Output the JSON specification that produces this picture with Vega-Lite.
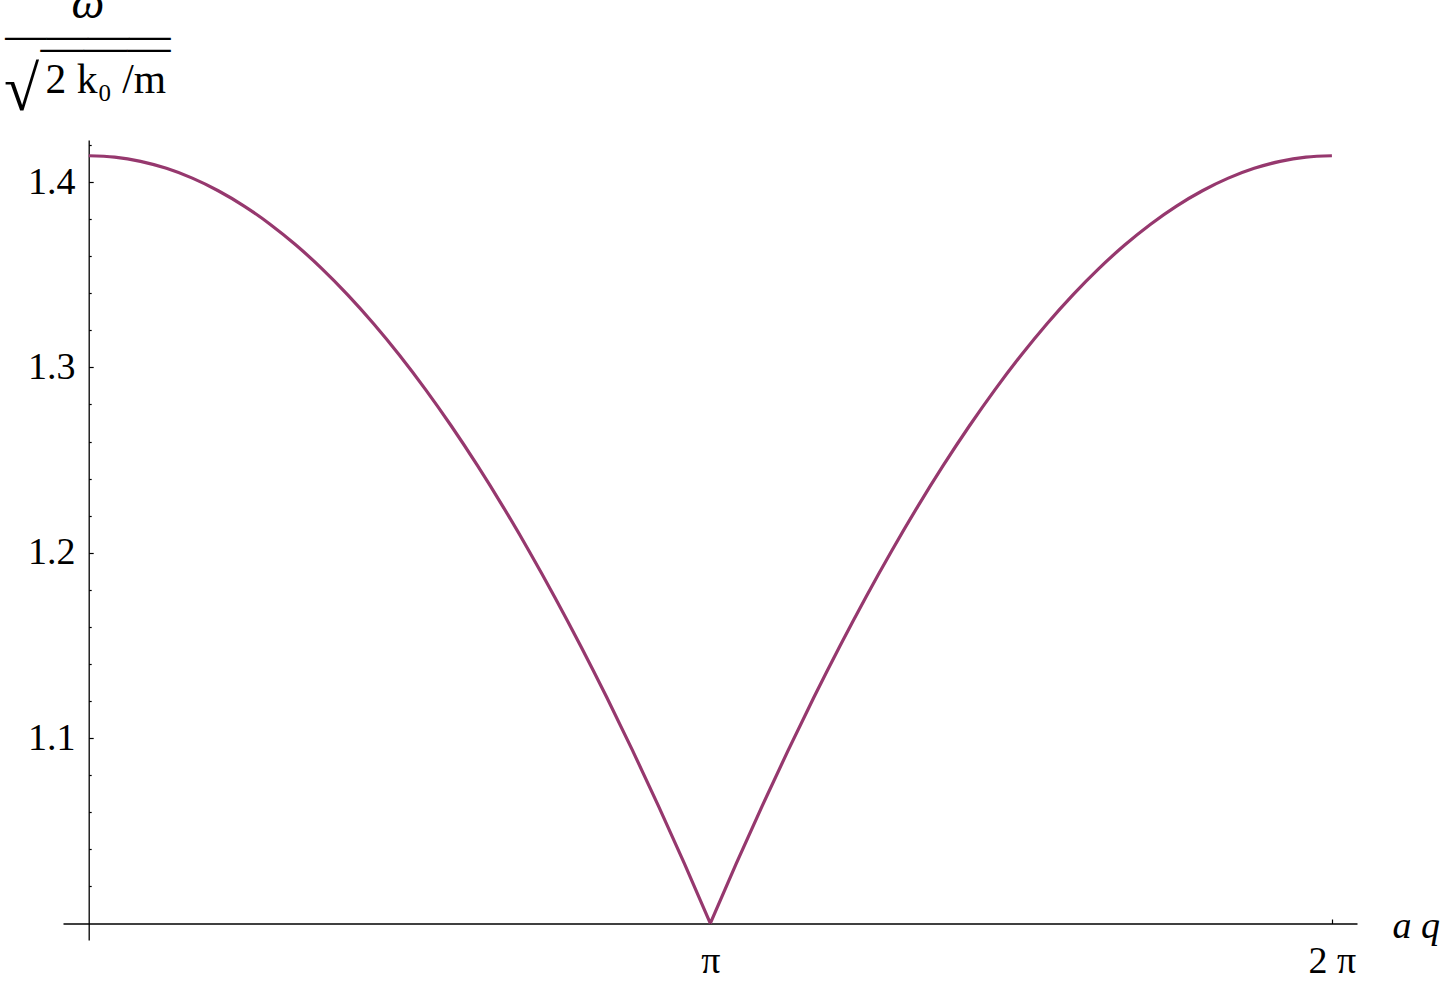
{
  "$schema": "https://vega.github.io/schema/vega-lite/v6.json",
  "width": 1294,
  "height": 800,
  "autosize": {"type": "none"},
  "padding": {"left": 63, "top": 140, "right": 83, "bottom": 43},
  "background": "white",
  "config": {"view": {"stroke": null}},
  "data": {"values": [
    {"aq": 0, "omega": 1.414214, "branch": "L"},
    {"aq": 0.1309, "omega": 1.413456, "branch": "L"},
    {"aq": 0.2618, "omega": 1.411186, "branch": "L"},
    {"aq": 0.3927, "omega": 1.407404, "branch": "L"},
    {"aq": 0.5236, "omega": 1.402115, "branch": "L"},
    {"aq": 0.6545, "omega": 1.395324, "branch": "L"},
    {"aq": 0.7854, "omega": 1.387040, "branch": "L"},
    {"aq": 0.9163, "omega": 1.377270, "branch": "L"},
    {"aq": 1.0472, "omega": 1.366025, "branch": "L"},
    {"aq": 1.1781, "omega": 1.353318, "branch": "L"},
    {"aq": 1.3090, "omega": 1.339161, "branch": "L"},
    {"aq": 1.4399, "omega": 1.323571, "branch": "L"},
    {"aq": 1.5708, "omega": 1.306563, "branch": "L"},
    {"aq": 1.7017, "omega": 1.288156, "branch": "L"},
    {"aq": 1.8326, "omega": 1.268369, "branch": "L"},
    {"aq": 1.9635, "omega": 1.247225, "branch": "L"},
    {"aq": 2.0944, "omega": 1.224745, "branch": "L"},
    {"aq": 2.2253, "omega": 1.200953, "branch": "L"},
    {"aq": 2.3562, "omega": 1.175876, "branch": "L"},
    {"aq": 2.4871, "omega": 1.149539, "branch": "L"},
    {"aq": 2.6180, "omega": 1.121971, "branch": "L"},
    {"aq": 2.7489, "omega": 1.093202, "branch": "L"},
    {"aq": 2.8798, "omega": 1.063262, "branch": "L"},
    {"aq": 3.0107, "omega": 1.032184, "branch": "L"},
    {"aq": 3.1416, "omega": 1.0, "branch": "L"},
    {"aq": 3.1416, "omega": 1.0, "branch": "R"},
    {"aq": 3.2725, "omega": 1.032184, "branch": "R"},
    {"aq": 3.4034, "omega": 1.063262, "branch": "R"},
    {"aq": 3.5343, "omega": 1.093202, "branch": "R"},
    {"aq": 3.6652, "omega": 1.121971, "branch": "R"},
    {"aq": 3.7961, "omega": 1.149539, "branch": "R"},
    {"aq": 3.9270, "omega": 1.175876, "branch": "R"},
    {"aq": 4.0579, "omega": 1.200953, "branch": "R"},
    {"aq": 4.1888, "omega": 1.224745, "branch": "R"},
    {"aq": 4.3197, "omega": 1.247225, "branch": "R"},
    {"aq": 4.4506, "omega": 1.268369, "branch": "R"},
    {"aq": 4.5815, "omega": 1.288156, "branch": "R"},
    {"aq": 4.7124, "omega": 1.306563, "branch": "R"},
    {"aq": 4.8433, "omega": 1.323571, "branch": "R"},
    {"aq": 4.9742, "omega": 1.339161, "branch": "R"},
    {"aq": 5.1051, "omega": 1.353318, "branch": "R"},
    {"aq": 5.2360, "omega": 1.366025, "branch": "R"},
    {"aq": 5.3669, "omega": 1.377270, "branch": "R"},
    {"aq": 5.4978, "omega": 1.387040, "branch": "R"},
    {"aq": 5.6287, "omega": 1.395324, "branch": "R"},
    {"aq": 5.7596, "omega": 1.402115, "branch": "R"},
    {"aq": 5.8905, "omega": 1.407404, "branch": "R"},
    {"aq": 6.0214, "omega": 1.411186, "branch": "R"},
    {"aq": 6.1523, "omega": 1.413456, "branch": "R"},
    {"aq": 6.2832, "omega": 1.414214, "branch": "R"}
  ]},
  "resolve": {"axis": {"x": "independent", "y": "independent"}},
  "layer": [
    {
      "mark": {"type": "line", "color": "#96386E", "strokeWidth": 3.2, "interpolate": "monotone"},
      "encoding": {
        "detail": {"field": "branch"},
        "x": {
          "field": "aq", "type": "quantitative",
          "scale": {"domain": [-0.13, 6.41], "nice": false, "zero": false},
          "axis": {
            "orient": "bottom", "offset": -16.5,
            "values": [3.14159265, 6.2831853],
            "labelExpr": "datum.value < 4 ? 'π' : '2 π'",
            "grid": false, "domainColor": "black", "domainWidth": 1.3,
            "tickColor": "black", "tickWidth": 1.2, "tickSize": -4.5,
            "labelFont": "Liberation Serif", "labelFontSize": 38, "labelColor": "black",
            "labelBaseline": "alphabetic", "labelPadding": 53,
            "labelFlush": false, "labelOverlap": false,
            "title": "a q", "titleFont": "Liberation Serif", "titleFontStyle": "italic",
            "titleFontWeight": "normal", "titleFontSize": 38, "titleColor": "black",
            "titleAngle": 0, "titleAlign": "left", "titleBaseline": "alphabetic",
            "titleX": 1329, "titleY": 13.5
          }
        },
        "y": {
          "field": "omega", "type": "quantitative",
          "scale": {"domain": [0.991, 1.4227], "nice": false, "zero": false},
          "axis": {
            "orient": "left", "offset": -25.7,
            "values": [1.02, 1.04, 1.06, 1.08, 1.1, 1.12, 1.14, 1.16, 1.18, 1.2, 1.22, 1.24, 1.26, 1.28, 1.3, 1.32, 1.34, 1.36, 1.38, 1.4, 1.42],
            "labelExpr": "abs(datum.value*10 - round(datum.value*10)) < 0.001 ? format(datum.value, '.1f') : ''",
            "grid": false, "domainColor": "black", "domainWidth": 1.3,
            "tickColor": "black", "tickWidth": 1.2,
            "tickSize": {"condition": {"test": "abs(datum.value*10 - round(datum.value*10)) < 0.001", "value": -4.5}, "value": -2.5},
            "labelFont": "Liberation Serif", "labelFontSize": 38, "labelColor": "black",
            "labelPadding": 18.2, "labelFlush": false, "labelOverlap": false,
            "title": "2 k₀ /m",
            "titleFont": "Liberation Serif", "titleFontWeight": "normal", "titleFontSize": 41.5,
            "titleColor": "black", "titleAngle": 0, "titleAlign": "left",
            "titleBaseline": "alphabetic",
            "titleX": -43.7, "titleY": -48
          }
        }
      }
    },
    {
      "mark": {"type": "line", "strokeOpacity": 0},
      "encoding": {
        "detail": {"field": "branch"},
        "x": {"field": "aq", "type": "quantitative", "axis": null},
        "y": {
          "field": "omega", "type": "quantitative",
          "axis": {
            "orient": "left", "offset": -25.7, "domain": false, "ticks": false, "labels": false, "grid": false,
            "title": ["ω", "————"],
            "titleFont": "Liberation Serif", "titleFontWeight": "normal", "titleFontStyle": "italic", "titleFontSize": 46.5,
            "titleColor": "black", "titleAngle": 0, "titleAlign": "center",
            "titleBaseline": "alphabetic", "titleLineHeight": 32.3,
            "titleX": -1.2, "titleY": -123
          }
        }
      }
    },
    {
      "mark": {"type": "line", "strokeOpacity": 0},
      "encoding": {
        "detail": {"field": "branch"},
        "x": {"field": "aq", "type": "quantitative", "axis": null},
        "y": {
          "field": "omega", "type": "quantitative",
          "axis": {
            "orient": "left", "offset": -25.7, "domain": false, "ticks": false, "labels": false, "grid": false,
            "title": "———",
            "titleFont": "Liberation Serif", "titleFontWeight": "normal", "titleFontSize": 43.3,
            "titleColor": "black", "titleAngle": 0, "titleAlign": "center",
            "titleBaseline": "alphabetic",
            "titleX": 16.3, "titleY": -79.5
          }
        }
      }
    },
    {
      "mark": {"type": "line", "strokeOpacity": 0},
      "encoding": {
        "detail": {"field": "branch"},
        "x": {"field": "aq", "type": "quantitative", "axis": null},
        "y": {
          "field": "omega", "type": "quantitative",
          "axis": {
            "orient": "left", "offset": -25.7, "domain": false, "ticks": false, "labels": false, "grid": false,
            "title": "√",
            "titleFont": "Liberation Serif", "titleFontWeight": "normal", "titleFontSize": 64,
            "titleColor": "black", "titleAngle": 0, "titleAlign": "center",
            "titleBaseline": "alphabetic",
            "titleX": -67.7, "titleY": -31
          }
        }
      }
    }
  ]
}
